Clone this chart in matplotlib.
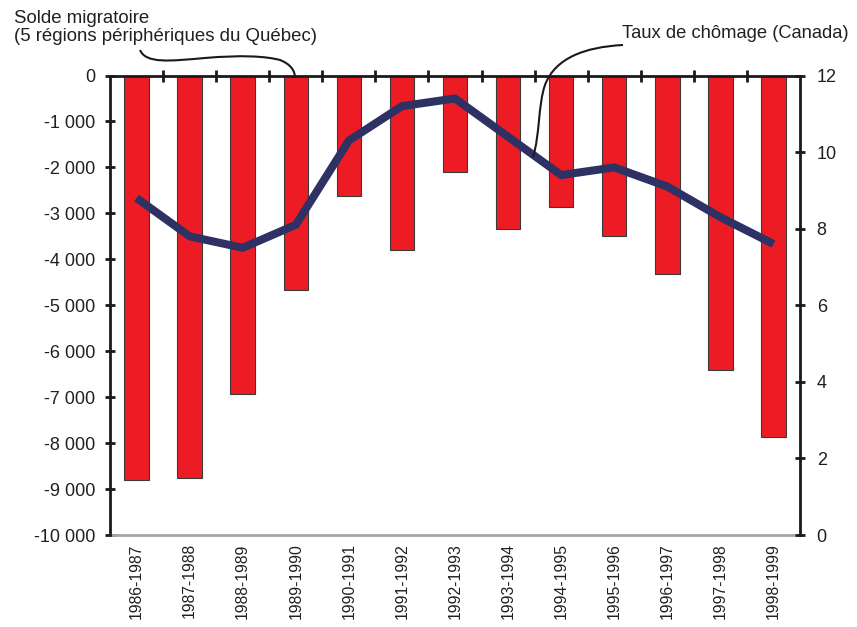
import matplotlib
matplotlib.use("Agg")
import matplotlib.pyplot as plt
import matplotlib.transforms as mtransforms
from matplotlib.path import Path
from matplotlib.patches import PathPatch

plt.rcParams['font.family'] = ['Liberation Sans', 'DejaVu Sans']

# ---------------- data ----------------
categories = ["1986-1987", "1987-1988", "1988-1989", "1989-1990", "1990-1991",
              "1991-1992", "1992-1993", "1993-1994", "1994-1995", "1995-1996",
              "1996-1997", "1997-1998", "1998-1999"]
solde_migratoire = [-8800, -8760, -6940, -4670, -2630, -3800, -2110,
                    -3340, -2860, -3500, -4320, -6410, -7870]
taux_chomage = [8.8, 7.8, 7.5, 8.1, 10.3, 11.2, 11.4, 10.4, 9.4, 9.6, 9.1, 8.3, 7.6]

left_ticks = [0, -1000, -2000, -3000, -4000, -5000, -6000, -7000, -8000, -9000, -10000]
left_tick_labels = ["0", "-1 000", "-2 000", "-3 000", "-4 000", "-5 000",
                    "-6 000", "-7 000", "-8 000", "-9 000", "-10 000"]
right_ticks = [0, 2, 4, 6, 8, 10, 12]
right_tick_labels = ["0", "2", "4", "6", "8", "10", "12"]

label_bars = "Solde migratoire\n(5 régions périphériques du Québec)"
label_line = "Taux de chômage (Canada)"

# ---------------- figure ----------------
W, H = 857, 627
fig = plt.figure(figsize=(W / 100, H / 100), dpi=100)
ax = fig.add_axes([110 / W, 1 - 535 / H, 690 / W, 459.5 / H])
txt = "#231f20"

x = list(range(len(categories)))
ax.bar(x, solde_migratoire, width=0.46, color="#ed1c24",
       edgecolor="#3a3a3a", linewidth=0.8, zorder=2)
ax.set_xlim(-0.5, len(categories) - 0.5)
ax.set_ylim(-10000, 0)
ax.set_yticks(left_ticks)
ax.set_yticklabels(left_tick_labels, fontsize=13, color=txt)
ax.set_xticks(x)
ax.set_xticklabels(categories, rotation=90, fontsize=11.3, color=txt)
ax.tick_params(axis='x', which='major', length=0, pad=6)
ax.tick_params(axis='y', direction='inout', length=7, width=2, pad=7, color="#1a1a1a")
ax.set_xticks([i + 0.5 for i in range(len(categories) - 1)], minor=True)
ax.tick_params(axis='x', which='minor', bottom=False, top=True,
               direction='inout', length=8, width=2, color="#1a1a1a")

for s in ['left', 'top']:
    ax.spines[s].set_color("#1a1a1a")
    ax.spines[s].set_linewidth(2)
    ax.spines[s].set_zorder(3)
ax.spines['bottom'].set_color("#a6a6a6")
ax.spines['bottom'].set_linewidth(2)
ax.spines['right'].set_visible(False)

ax2 = ax.twinx()
ax2.plot(x, taux_chomage, color="#2e3163", linewidth=5.8,
         solid_joinstyle='miter', solid_capstyle='butt', zorder=4)
ax2.set_ylim(0, 12)
ax2.set_yticks(right_ticks)
ax2.set_yticklabels(right_tick_labels, fontsize=13, color=txt)
ax2.tick_params(axis='y', direction='inout', length=7, width=2, pad=8.5, color="#1a1a1a")
for s in ['left', 'top', 'bottom']:
    ax2.spines[s].set_visible(False)
ax2.spines['right'].set_color("#1a1a1a")
ax2.spines['right'].set_linewidth(2)

# ---------------- annotations ----------------
pix = mtransforms.Affine2D().scale(1 / W, -1 / H).translate(0, 1) + fig.transFigure

fig.text(14 / W, 1 - 10 / H, label_bars, fontsize=13.4, color=txt,
         va='top', ha='left', linespacing=1.1)
fig.text(622 / W, 1 - 34 / H, label_line, fontsize=13.2, color=txt,
         va='center', ha='left')

verts1 = [(140, 50), (146, 64), (170, 61), (205, 58),
          (240, 55), (265, 56), (280, 60),
          (290, 64), (295, 70), (295, 78)]
codes1 = [Path.MOVETO, Path.CURVE4, Path.CURVE4, Path.CURVE4,
          Path.CURVE4, Path.CURVE4, Path.CURVE4,
          Path.CURVE4, Path.CURVE4, Path.CURVE4]
fig.patches.append(PathPatch(Path(verts1, codes1), transform=pix,
                             facecolor='none', edgecolor='#1a1a1a', linewidth=1.5))

verts2 = [(623, 45), (585, 47), (555, 58), (545, 85),
          (538, 105), (540, 135), (533, 157)]
codes2 = [Path.MOVETO, Path.CURVE4, Path.CURVE4, Path.CURVE4,
          Path.CURVE4, Path.CURVE4, Path.CURVE4]
fig.patches.append(PathPatch(Path(verts2, codes2), transform=pix,
                             facecolor='none', edgecolor='#1a1a1a', linewidth=1.5,
                             zorder=5))

fig.savefig("out.png", dpi=100)
